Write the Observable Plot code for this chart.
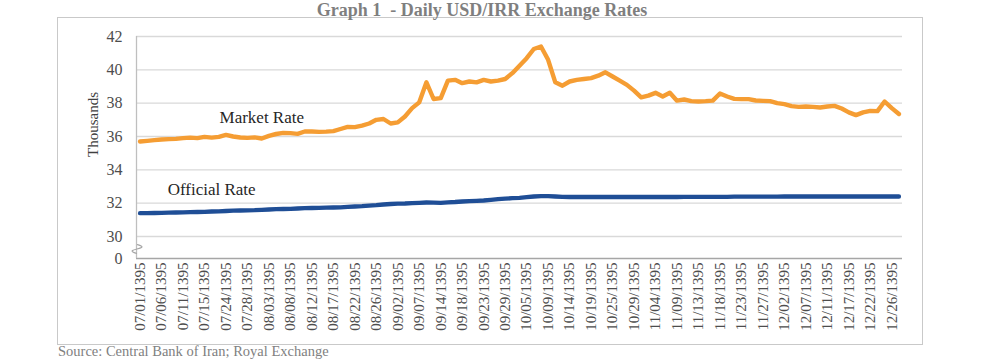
<!DOCTYPE html>
<html><head><meta charset="utf-8">
<script src="https://cdn.jsdelivr.net/npm/d3@7"></script>
<script src="https://cdn.jsdelivr.net/npm/@observablehq/plot@0.6"></script>
<style>
html,body{margin:0;padding:0;background:#fff;}
body{width:1000px;height:359px;overflow:hidden;position:relative;font-family:"Liberation Serif","Times New Roman",serif;}
#title{position:absolute;left:0;width:964px;top:1px;text-align:center;font-size:18px;line-height:18px;font-weight:bold;color:#7f7f7f;white-space:pre;}
#frame{position:absolute;left:57px;top:17px;width:864px;height:326px;border:1px solid #c9c9c9;}
#source{position:absolute;left:58px;top:344px;font-size:14.5px;line-height:14px;color:#7f7f7f;white-space:nowrap;}
</style>
</head>
<body>
<div id="frame"></div>
<div id="title">Graph 1  - Daily USD/IRR Exchange Rates</div>
<div id="source">Source: Central Bank of Iran; Royal Exchange</div>
<script>
const dateLabels = ["07/01/1395","07/06/1395","07/11/1395","07/15/1395","07/24/1395","07/28/1395","08/03/1395","08/08/1395","08/12/1395","08/17/1395","08/22/1395","08/26/1395","09/02/1395","09/07/1395","09/14/1395","09/18/1395","09/23/1395","09/29/1395","10/05/1395","10/09/1395","10/14/1395","10/19/1395","10/25/1395","10/29/1395","11/04/1395","11/09/1395","11/13/1395","11/18/1395","11/23/1395","11/27/1395","12/02/1395","12/07/1395","12/11/1395","12/17/1395","12/22/1395","12/26/1395"];
const labelEvery = 3;
const marketRate = [
35.70,35.74,35.78,35.82,35.84,35.86,35.90,35.93,35.90,35.98,
35.93,35.98,36.10,36.00,35.94,35.92,35.95,35.88,36.04,36.15,
36.22,36.20,36.16,36.30,36.30,36.28,36.29,36.32,36.45,36.58,
36.56,36.65,36.78,37.00,37.05,36.78,36.85,37.20,37.70,38.05,
39.25,38.25,38.30,39.35,39.40,39.20,39.30,39.25,39.40,39.30,
39.35,39.45,39.80,40.25,40.70,41.25,41.40,40.60,39.25,39.05,
39.30,39.40,39.45,39.50,39.65,39.85,39.60,39.35,39.10,38.75,
38.35,38.45,38.62,38.40,38.62,38.15,38.22,38.12,38.10,38.12,
38.15,38.58,38.40,38.26,38.24,38.24,38.16,38.14,38.12,38.00,
37.94,37.82,37.78,37.80,37.78,37.74,37.80,37.84,37.68,37.45,
37.28,37.45,37.54,37.52,38.10,37.70,37.35];
const officialRate = [
31.40,31.40,31.41,31.42,31.43,31.44,31.45,31.46,31.47,31.48,
31.50,31.51,31.53,31.55,31.56,31.57,31.58,31.60,31.62,31.64,
31.65,31.66,31.68,31.70,31.71,31.72,31.73,31.74,31.75,31.78,
31.80,31.82,31.85,31.88,31.92,31.95,31.97,31.98,32.00,32.02,
32.04,32.03,32.02,32.05,32.07,32.10,32.12,32.14,32.16,32.20,
32.24,32.27,32.30,32.32,32.36,32.40,32.42,32.42,32.40,32.38,
32.37,32.37,32.37,32.37,32.37,32.37,32.37,32.37,32.37,32.37,
32.37,32.37,32.37,32.37,32.37,32.37,32.38,32.38,32.38,32.38,
32.38,32.38,32.38,32.39,32.39,32.39,32.39,32.39,32.39,32.39,
32.40,32.40,32.40,32.40,32.40,32.40,32.40,32.40,32.40,32.40,
32.40,32.40,32.40,32.40,32.40,32.40,32.40];
const yTickValues = [0, 30, 32, 34, 36, 38, 40, 42];
const gridValues = [30, 32, 34, 36, 38, 40, 42];
const seriesNames = ["Market Rate", "Official Rate"];
const axisTitle = "Thousands";
const axisBreak = [{x: -0.36, y: 19}, {x: 0.2, y: 15}, {x: -1.06, y: 11}, {x: -0.5, y: 7}];

const data = marketRate.map((v, i) => ({i, market: v, official: officialRate[i]}));
const tickIdx = dateLabels.map((_, j) => j * labelEvery);
const xDomain = [-0.5, marketRate.length - 0.5];

const chart = Plot.plot({
  width: 864, height: 326,
  marginLeft: 78, marginRight: 20, marginTop: 18, marginBottom: 86,
  style: {fontFamily: "'Liberation Serif','Times New Roman',serif", fontSize: "15px", color: "#4d4d4d", background: "transparent", overflow: "visible"},
  x: {type: "linear", domain: xDomain, ticks: tickIdx, tickFormat: i => dateLabels[Math.round(i / labelEvery)], tickRotate: -90, tickSize: 0, tickPadding: 4, label: null},
  y: {type: "linear", domain: [0, 30, 42], range: [240, 218, 18], ticks: yTickValues, tickFormat: d => String(d), tickSize: 0, tickPadding: 14, label: null},
  marks: [
    Plot.ruleY(gridValues, {stroke: "#d9d9d9", strokeWidth: 1.3}),
    Plot.ruleY([yTickValues[0]], {stroke: "#a6a6a6", strokeWidth: 1.3}),
    Plot.ruleX([xDomain[0]], {y1: yTickValues[0], y2: yTickValues[yTickValues.length - 1], stroke: "#bfbfbf", strokeWidth: 1.3}),
    Plot.line(axisBreak, {x: "x", y: "y", stroke: "#a6a6a6", strokeWidth: 1.2, curve: "natural"}),
    Plot.line(data, {x: "i", y: "official", stroke: "#1f4e96", strokeWidth: 4.4, strokeLinejoin: "round", strokeLinecap: "round"}),
    Plot.line(data, {x: "i", y: "market", stroke: "#f59d33", strokeWidth: 4.4, strokeLinejoin: "round", strokeLinecap: "round"}),
    Plot.text([seriesNames[0]], {x: () => 17, y: () => marketRate[17], text: d => d, dy: -21, fontSize: 17, fill: "#262626"}),
    Plot.text([seriesNames[1]], {x: () => 10, y: () => officialRate[10], text: d => d, dy: -22, fontSize: 17, fill: "#262626"}),
    Plot.text([axisTitle], {frameAnchor: "top-left", text: d => d, textAnchor: "middle", rotate: -90, dx: -49, dy: 88, fontSize: 15, fill: "#404040"})
  ]
});
chart.querySelectorAll("g[aria-label='y-axis tick label'] text, g[aria-label='y-axis'] text").forEach(t => t.setAttribute("font-size", "16"));
document.getElementById("frame").appendChild(chart);
</script>
</body></html>
